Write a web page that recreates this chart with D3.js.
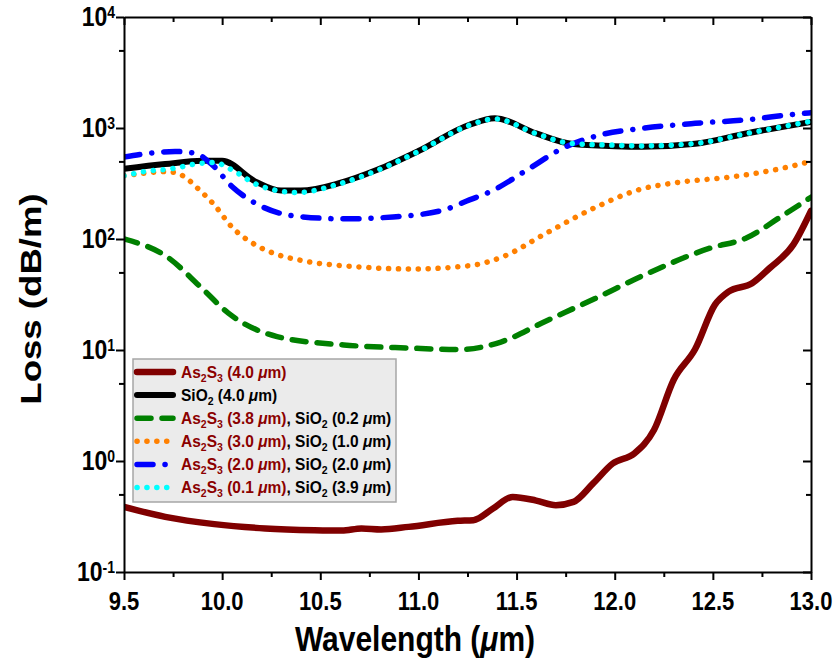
<!DOCTYPE html>
<html>
<head>
<meta charset="utf-8">
<script src="https://cdn.jsdelivr.net/npm/d3@7"></script>
<style>
body { margin: 0; background: #fff; }
text { font-family: "Liberation Sans", Arial, sans-serif; font-weight: bold; }
</style>
</head>
<body>
<div id="graphe"></div>
<script>
// Valeurs (longueur d'onde en µm, pertes en dB/m)
const wlRouge = [9.5, 9.71, 9.96, 10.22, 10.47, 10.61, 10.71, 10.81, 10.95, 11.2, 11.28, 11.38, 11.48, 11.6, 11.7, 11.79, 11.89, 11.99, 12.1, 12.2, 12.3, 12.41, 12.51, 12.58, 12.7, 12.79, 12.91, 13.0];
const pertesRouge = [0.386, 0.314, 0.270, 0.247, 0.238, 0.236, 0.247, 0.242, 0.255, 0.289, 0.293, 0.373, 0.475, 0.44, 0.40, 0.428, 0.628, 0.95, 1.17, 1.90, 5.37, 10.2, 25.5, 33.6, 39.9, 54.8, 89, 179];

const wlNoir = [9.5, 9.71, 9.9, 10.0, 10.17, 10.3, 10.4, 10.6, 10.79, 11.0, 11.26, 11.39, 11.6, 11.78, 12.0, 12.14, 12.41, 12.67, 13.0];
const pertesNoir = [429, 473, 506, 506, 329, 273, 273, 320, 420, 620, 1069, 1223, 893, 720, 685, 677, 720, 893, 1135];

const wlVert = [9.5, 9.72, 9.89, 10.03, 10.28, 10.62, 10.96, 11.21, 11.42, 11.64, 11.9, 12.15, 12.49, 12.67, 12.84, 13.0];
const pertesVert = [100, 69, 37, 21.6, 13.2, 11.1, 10.4, 10.1, 11.8, 17.9, 29.1, 47.4, 83.2, 102, 156, 238];

const wlOrange = [9.5, 9.61, 9.71, 9.75, 9.8, 9.88, 9.96, 10.05, 10.17, 10.27, 10.41, 10.7, 10.96, 11.26, 11.44, 11.64, 11.9, 12.12, 12.33, 12.58, 12.84, 13.0];
const pertesOrange = [371, 392, 405, 400, 371, 281, 203, 128, 88.5, 73.5, 63.8, 56, 53.7, 57.5, 70.4, 110, 192, 277, 325, 360, 429, 500];

const wlBleu = [9.5, 9.76, 9.86, 9.95, 10.05, 10.17, 10.37, 10.62, 10.87, 11.13, 11.26, 11.37, 11.55, 11.73, 11.93, 12.14, 12.41, 12.67, 12.94, 13.0];
const pertesBleu = [547, 614, 594, 466, 297, 210, 161, 152, 158, 183, 225, 269, 415, 650, 869, 992, 1102, 1185, 1343, 1370];

const wlCyan = [9.5, 9.61, 9.76, 9.86, 9.96, 10.05, 10.18, 10.38, 10.6, 10.79, 11.0, 11.26, 11.39, 11.6, 11.78, 12.0, 12.14, 12.41, 12.67, 13.0];
const pertesCyan = [371, 406, 434, 473, 489, 420, 308, 262, 315, 415, 615, 1060, 1210, 890, 725, 700, 690, 725, 890, 1150];

const ticksX = [9.5, 10.0, 10.5, 11.0, 11.5, 12.0, 12.5, 13.0];
const ticksXMineurs = [9.75, 10.25, 10.75, 11.25, 11.75, 12.25, 12.75];
const exposantsY = [-1, 0, 1, 2, 3, 4];
const ticksYMineurs = [0.5, 5, 50, 500, 5000];

// Libellés de légende : morceaux [texte, couleur, sous-indice?, italique?]
const ROUGE_TXT = "#8b0000";
const legendes = [
    [["As", ROUGE_TXT], ["2", ROUGE_TXT, 1], ["S", ROUGE_TXT], ["3", ROUGE_TXT, 1], [" (4.0 ", ROUGE_TXT], ["\u03bc", ROUGE_TXT, 0, 1], ["m)", ROUGE_TXT]],
    [["SiO", "#000"], ["2", "#000", 1], [" (4.0 ", "#000"], ["\u03bc", "#000", 0, 1], ["m)", "#000"]],
    [["As", ROUGE_TXT], ["2", ROUGE_TXT, 1], ["S", ROUGE_TXT], ["3", ROUGE_TXT, 1], [" (3.8 ", ROUGE_TXT], ["\u03bc", ROUGE_TXT, 0, 1], ["m)", ROUGE_TXT], [", SiO", "#000"], ["2", "#000", 1], [" (0.2 ", "#000"], ["\u03bc", "#000", 0, 1], ["m)", "#000"]],
    [["As", ROUGE_TXT], ["2", ROUGE_TXT, 1], ["S", ROUGE_TXT], ["3", ROUGE_TXT, 1], [" (3.0 ", ROUGE_TXT], ["\u03bc", ROUGE_TXT, 0, 1], ["m)", ROUGE_TXT], [", SiO", "#000"], ["2", "#000", 1], [" (1.0 ", "#000"], ["\u03bc", "#000", 0, 1], ["m)", "#000"]],
    [["As", ROUGE_TXT], ["2", ROUGE_TXT, 1], ["S", ROUGE_TXT], ["3", ROUGE_TXT, 1], [" (2.0 ", ROUGE_TXT], ["\u03bc", ROUGE_TXT, 0, 1], ["m)", ROUGE_TXT], [", SiO", "#000"], ["2", "#000", 1], [" (2.0 ", "#000"], ["\u03bc", "#000", 0, 1], ["m)", "#000"]],
    [["As", ROUGE_TXT], ["2", ROUGE_TXT, 1], ["S", ROUGE_TXT], ["3", ROUGE_TXT, 1], [" (0.1 ", ROUGE_TXT], ["\u03bc", ROUGE_TXT, 0, 1], ["m)", ROUGE_TXT], [", SiO", "#000"], ["2", "#000", 1], [" (3.9 ", "#000"], ["\u03bc", "#000", 0, 1], ["m)", "#000"]]
];

// Styles des courbes, dans l'ordre de la légende
const series = [
    {wl: wlRouge,  pertes: pertesRouge,  couleur: "#800000", largeur: 6.5, tirets: null,           bout: "round"},
    {wl: wlNoir,   pertes: pertesNoir,   couleur: "#000000", largeur: 6,   tirets: null,           bout: "round"},
    {wl: wlVert,   pertes: pertesVert,   couleur: "#008000", largeur: 5.5, tirets: "14,11",        bout: "round"},
    {wl: wlOrange, pertes: pertesOrange, couleur: "#ff8000", largeur: 5.5, tirets: "0.1,9.8",      bout: "round"},
    {wl: wlBleu,   pertes: pertesBleu,   couleur: "#0000ff", largeur: 5.5, tirets: "16,12,0.1,12", bout: "round"},
    {wl: wlCyan,   pertes: pertesCyan,   couleur: "#00ffff", largeur: 5.5, tirets: "0.1,9.8",      bout: "round"}
];

const largeur = 837, hauteur = 662;
const marge = {haut: 17, droite: 26, bas: 90, gauche: 124};
const ETIRE = 1.17; // le texte de la figure d'origine est étiré verticalement

const svg = d3.select("#graphe").append("svg")
    .attr("width", largeur)
    .attr("height", hauteur);

svg.append("rect").attr("width", "100%").attr("height", "100%").attr("fill", "white");

const x = d3.scaleLinear().domain([9.5, 13.0]).range([marge.gauche, largeur - marge.droite]);
const y = d3.scaleLog().domain([0.1, 1e4]).range([hauteur - marge.bas, marge.haut]);

// Courbes
const ligne = d3.line()
    .x(d => x(d[0]))
    .y(d => y(d[1]))
    .curve(d3.curveMonotoneX);

const defs = svg.append("defs");
defs.append("clipPath").attr("id", "zone")
    .append("rect")
    .attr("x", marge.gauche).attr("y", marge.haut)
    .attr("width", x.range()[1] - marge.gauche)
    .attr("height", y.range()[0] - marge.haut);

const courbes = svg.append("g").attr("clip-path", "url(#zone)");
series.forEach(s => {
    courbes.append("path")
        .datum(s.wl.map((w, i) => [w, s.pertes[i]]))
        .attr("d", ligne)
        .attr("fill", "none")
        .attr("stroke", s.couleur)
        .attr("stroke-width", s.largeur)
        .attr("stroke-linecap", s.bout)
        .attr("stroke-linejoin", "round")
        .attr("stroke-dasharray", s.tirets);
});

// Axes
function styliser(g) {
    g.selectAll(".domain").attr("stroke", "#000").attr("stroke-width", 2);
    g.selectAll(".tick line").attr("stroke", "#000").attr("stroke-width", 2);
}
const basY = y.range()[0], hautY = y.range()[1];
const gaucheX = x.range()[0], droiteX = x.range()[1];

svg.append("g").attr("transform", `translate(0,${basY})`)
    .call(d3.axisBottom(x).tickValues(ticksX).tickSize(8).tickSizeOuter(0).tickFormat(""))
    .call(styliser);
svg.append("g").attr("transform", `translate(0,${basY})`)
    .call(d3.axisBottom(x).tickValues(ticksXMineurs).tickSize(5).tickFormat(""))
    .call(styliser).call(g => g.select(".domain").remove());

svg.append("g").attr("transform", `translate(0,${hautY})`)
    .call(d3.axisTop(x).tickValues(ticksX).tickSize(-8).tickSizeOuter(0).tickFormat(""))
    .call(styliser);
svg.append("g").attr("transform", `translate(0,${hautY})`)
    .call(d3.axisTop(x).tickValues(ticksXMineurs).tickSize(-5).tickFormat(""))
    .call(styliser).call(g => g.select(".domain").remove());

const decades = exposantsY.map(e => Math.pow(10, e));
svg.append("g").attr("transform", `translate(${gaucheX},0)`)
    .call(d3.axisLeft(y).tickValues(decades).tickSize(8).tickSizeOuter(0).tickFormat(""))
    .call(styliser);
svg.append("g").attr("transform", `translate(${gaucheX},0)`)
    .call(d3.axisLeft(y).tickValues(ticksYMineurs).tickSize(5).tickFormat(""))
    .call(styliser).call(g => g.select(".domain").remove());

svg.append("g").attr("transform", `translate(${droiteX},0)`)
    .call(d3.axisRight(y).tickValues(decades).tickSize(-8).tickSizeOuter(0).tickFormat(""))
    .call(styliser);
svg.append("g").attr("transform", `translate(${droiteX},0)`)
    .call(d3.axisRight(y).tickValues(ticksYMineurs).tickSize(-5).tickFormat(""))
    .call(styliser).call(g => g.select(".domain").remove());

// Étiquettes de l'axe x
ticksX.forEach(v => {
    svg.append("text")
        .attr("transform", `translate(${x(v)},${basY + 38}) scale(1,${ETIRE})`)
        .attr("text-anchor", "middle")
        .attr("font-size", 22)
        .text(d3.format(".1f")(v));
});

// Étiquettes 10^n
exposantsY.forEach(e => {
    const t = svg.append("text")
        .attr("transform", `translate(${gaucheX - 9},${y(Math.pow(10, e)) + 9}) scale(1,${ETIRE})`)
        .attr("text-anchor", "end")
        .attr("font-size", 23);
    t.append("tspan").text("10");
    t.append("tspan").attr("dy", -7).attr("font-size", 14).text(e);
});

// Titres des axes
const titreX = svg.append("text")
    .attr("transform", `translate(415,651) scale(1,${ETIRE})`)
    .attr("text-anchor", "middle")
    .attr("font-size", 30);
titreX.append("tspan").text("Wavelength (");
titreX.append("tspan").attr("font-style", "italic").text("\u03bc");
titreX.append("tspan").text("m)");

svg.append("text")
    .attr("transform", `translate(41,299) rotate(-90) scale(1.22,1)`)
    .attr("text-anchor", "middle")
    .attr("font-size", 30)
    .text("Loss (dB/m)");

// Légende
const leg = svg.append("g");
leg.append("rect")
    .attr("x", 133).attr("y", 359)
    .attr("width", 263).attr("height", 143)
    .attr("fill", "#ebebeb")
    .attr("stroke", "#a6a6a6")
    .attr("stroke-width", 1.5);

legendes.forEach((parts, i) => {
    const cy = 372 + i * 23.1;
    const s = series[i];
    leg.append("line")
        .attr("x1", 137).attr("x2", 173)
        .attr("y1", cy).attr("y2", cy)
        .attr("stroke", s.couleur)
        .attr("stroke-width", s.largeur)
        .attr("stroke-linecap", s.bout)
        .attr("stroke-dasharray", s.tirets);
    const t = leg.append("text")
        .attr("transform", `translate(181,${cy + 5.5}) scale(1,1.08)`)
        .attr("font-size", 15.5);
    let decale = 0;
    parts.forEach(p => {
        const [txt, coul, sub, ital] = p;
        const ts = t.append("tspan").attr("fill", coul).text(txt);
        const cible = sub ? 4 : 0;
        if (cible !== decale) { ts.attr("dy", cible - decale); decale = cible; }
        if (sub) ts.attr("font-size", 10.5);
        if (ital) ts.attr("font-style", "italic");
    });
});
</script>
</body>
</html>
